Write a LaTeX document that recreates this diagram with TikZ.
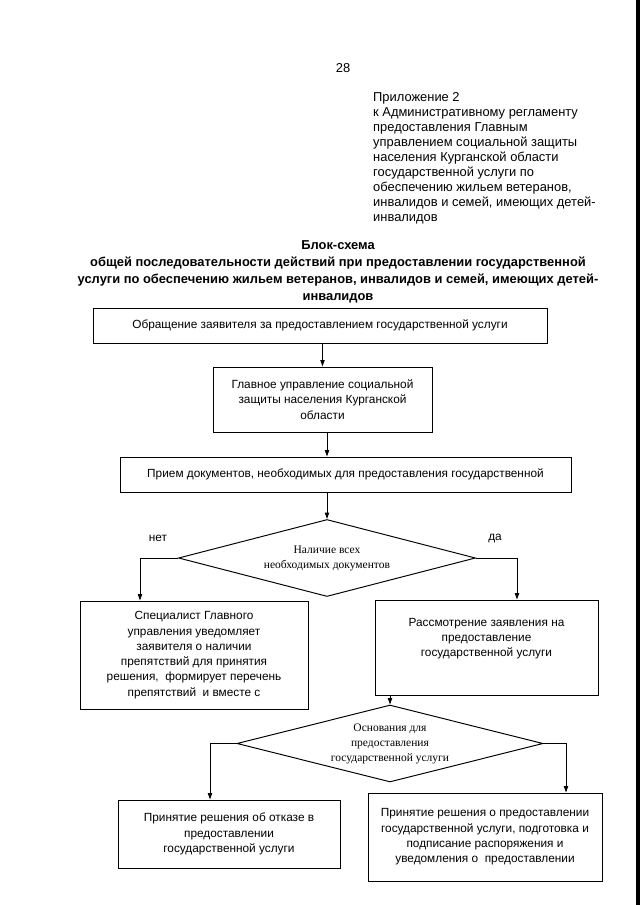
\documentclass[tikz,border=0pt]{standalone}
\usepackage{fontspec}
\setmainfont{Liberation Sans}
\newfontfamily\timesfont{Liberation Serif}
\usetikzlibrary{positioning, shapes.geometric, arrows.meta}
\newcommand{\px}{0.93pt}
\newcommand{\boxfont}{\fontsize{11}{14.2}\selectfont}

\begin{document}
\begin{tikzpicture}[
    x=\px, y=-\px,
    box/.style={draw, line width=0.9pt, inner sep=2pt, align=center, font=\boxfont},
    decision/.style={draw, diamond, line width=0.9pt, inner sep=0pt, align=center, font=\timesfont\fontsize{10.7}{14}\selectfont},
    txt/.style={inner sep=0pt, font=\fontsize{12}{14}\selectfont},
    arr/.style={-{Triangle[length=6pt, width=4pt]}, line width=0.9pt},
]
    \useasboundingbox (0,0) rectangle (640,905);

    % Header
    \node[txt] (page) at (343,68) {28};
    \node[txt, anchor=north west, align=left] (appendix) at (373,92) {Приложение 2\\к Административному регламенту\\предоставления Главным\\управлением социальной защиты\\населения Курганской области\\государственной услуги по\\обеспечению жильем ветеранов,\\инвалидов и семей, имеющих детей-\\инвалидов};
    \node[txt, font=\bfseries\fontsize{12}{15.8}\selectfont, align=center] (title) at (338,272) {Блок-схема\\общей последовательности действий при предоставлении государственной\\услуги по обеспечению жильем ветеранов, инвалидов и семей, имеющих детей-\\инвалидов};

    % Main column
    \node[box, minimum width=454*\px, minimum height=35*\px] (request) at (320,325.5) {Обращение заявителя за предоставлением государственной услуги};
    \node[box, minimum width=219*\px, minimum height=65*\px] (office) at (322.5,399.5) {Главное управление социальной\\защиты населения Курганской\\области};
    \node[box, minimum width=451*\px, minimum height=35*\px] (intake) at (345.5,474.5) {Прием документов, необходимых для предоставления государственной};
    \node[decision, minimum width=297*\px, minimum height=77*\px, aspect=3.9] (docs) at (327,558) {Наличие всех\\необходимых документов};

    % Branches
    \node[box, minimum width=228*\px, minimum height=108*\px] (notify) at (194,655) {Специалист Главного\\управления уведомляет\\заявителя о наличии\\препятствий для принятия\\решения,\ \ формирует перечень\\препятствий\ \ и вместе с};
    \node[box, minimum width=223*\px, minimum height=95*\px] (review) at (486.5,647.5) {};
    \node[txt, font=\boxfont, align=center, anchor=north] (reviewtext) at (486.5,618) {Рассмотрение заявления на\\предоставление\\государственной услуги};
    \node[decision, minimum width=306*\px, minimum height=77*\px, aspect=4] (grounds) at (390,743.5) {Основания для\\предоставления\\государственной услуги};
    \node[box, minimum width=222*\px, minimum height=68*\px] (refusal) at (229,834) {Принятие решения об отказе в\\предоставлении\\государственной услуги};
    \node[box, minimum width=234*\px, minimum height=88*\px] (approval) at (485,837) {Принятие решения о предоставлении\\государственной услуги, подготовка и\\подписание распоряжения и\\уведомления о\ \ предоставлении};

    % Labels
    \node[txt, font=\boxfont] (nolabel) at (158,538) {нет};
    \node[txt, font=\boxfont] (yeslabel) at (495,538) {да};

    % Columns of the side arrows
    \coordinate (nocol) at (140,0);
    \coordinate (yescol) at (517,0);
    \coordinate (refusecol) at (210,0);
    \coordinate (grantcol) at (566,0);

    % Arrows
    \draw[arr] (request.south -| office.north) -- (office.north);
    \draw[arr] (office.south -| docs.north) -- (intake.north -| docs.north);
    \draw[arr] (intake.south -| docs.north) -- (docs.north);
    \draw[arr] (docs.west) -| (nocol |- notify.north);
    \draw[arr] (docs.east) -| (yescol |- review.north);
    \draw[arr] (review.south -| grounds.north) -- (grounds.north);
    \draw[arr] (grounds.west) -| (refusecol |- refusal.north);
    \draw[arr] (grounds.east) -| (grantcol |- approval.north);

    % Scan edge
    \fill (636,0) rectangle (640,905);
\end{tikzpicture}
\end{document}
